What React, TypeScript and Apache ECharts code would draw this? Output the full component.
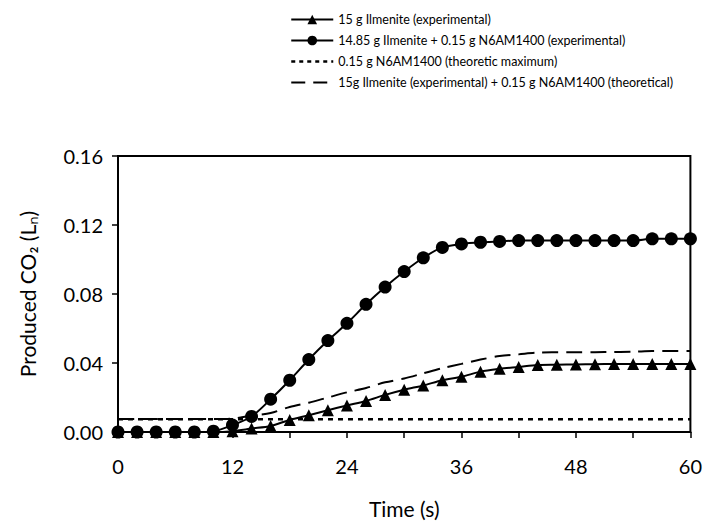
import React, { useEffect, useRef } from "react";
import * as echarts from "echarts";

const times = [0, 2, 4, 6, 8, 10, 12, 14, 16, 18, 20, 22, 24, 26, 28, 30, 32, 34, 36, 38, 40, 42, 44, 46, 48, 50, 52, 54, 56, 58, 60];
const ilmeniteExp = [0, 0, 0, 0, 0, 0, 0.0005, 0.002, 0.0035, 0.007, 0.0097, 0.0126, 0.0154, 0.018, 0.0215, 0.0245, 0.027, 0.03, 0.032, 0.035, 0.0366, 0.0377, 0.0388, 0.039, 0.0392, 0.0393, 0.0394, 0.0394, 0.0394, 0.0394, 0.0394];
const mixExp = [0, 0, 0, 0, 0, 0.0005, 0.004, 0.009, 0.019, 0.03, 0.042, 0.053, 0.063, 0.074, 0.084, 0.093, 0.101, 0.107, 0.109, 0.110, 0.1105, 0.111, 0.111, 0.111, 0.111, 0.111, 0.111, 0.111, 0.112, 0.112, 0.112];
const n6Max = [0.0074, 0.0074, 0.0074, 0.0074, 0.0074, 0.0074, 0.0074, 0.0074, 0.0074, 0.0074, 0.0074, 0.0074, 0.0074, 0.0074, 0.0074, 0.0074, 0.0074, 0.0074, 0.0074, 0.0074, 0.0074, 0.0074, 0.0074, 0.0074, 0.0074, 0.0074, 0.0074, 0.0074, 0.0074, 0.0074, 0.0074];
const theoSum = [0.0075, 0.0075, 0.0075, 0.0075, 0.0075, 0.0075, 0.0078, 0.0095, 0.011, 0.0145, 0.017, 0.02, 0.023, 0.0255, 0.0288, 0.031, 0.034, 0.037, 0.0395, 0.042, 0.044, 0.045, 0.046, 0.0462, 0.0463, 0.0463, 0.0464, 0.0465, 0.047, 0.047, 0.047];

const seriesNames = [
  "15 g Ilmenite (experimental)",
  "14.85 g Ilmenite + 0.15 g N6AM1400 (experimental)",
  "0.15 g N6AM1400 (theoretic maximum)",
  "15g Ilmenite (experimental) + 0.15 g N6AM1400 (theoretical)",
];
const yTicks = ["0.00", "0.04", "0.08", "0.12", "0.16"];

const FONT = "Lato, 'Open Sans', sans-serif";

const pair = (arr: number[]) => times.map((t, i) => [t, arr[i]]);

export default function App() {
  const ref = useRef<HTMLDivElement>(null);
  useEffect(() => {
    if (!ref.current) return;
    const chart = echarts.init(ref.current, undefined, { renderer: "svg" });
    chart.setOption({
      animation: false,
      backgroundColor: "#ffffff",
      textStyle: { fontFamily: FONT, color: "#000" },
      legend: {
        orient: "vertical",
        left: 277,
        top: 0,
        itemWidth: 42,
        itemHeight: 12,
        itemGap: 8,
        textStyle: { fontFamily: FONT, fontSize: 12.5, color: "#000" },
        data: [
          { name: seriesNames[0] },
          { name: seriesNames[1] },
          { name: seriesNames[2], itemStyle: { opacity: 0 }, lineStyle: { type: [4, 4], width: 2.5 } },
          { name: seriesNames[3], itemStyle: { opacity: 0 }, lineStyle: { type: [14, 8], width: 2 } },
        ],
      },
      grid: {
        left: 110,
        right: 8,
        top: 148,
        bottom: 88,
        show: true,
        borderColor: "#000",
        borderWidth: 2,
        backgroundColor: "transparent",
      },
      xAxis: {
        type: "value",
        min: 0,
        max: 60,
        interval: 6,
        name: "Time (s)",
        nameLocation: "middle",
        nameGap: 66,
        nameTextStyle: { fontFamily: FONT, fontSize: 21, color: "#000" },
        axisLine: { show: true, lineStyle: { color: "#000", width: 2 } },
        axisTick: { show: true, inside: false, length: 6, lineStyle: { color: "#000", width: 1.5 } },
        axisLabel: {
          margin: 24,
          fontFamily: FONT,
          fontSize: 20,
          color: "#000",
          formatter: (v: number) => (v % 12 === 0 ? String(v) : ""),
        },
        splitLine: { show: false },
      },
      yAxis: {
        type: "value",
        min: 0,
        max: 0.16,
        interval: 0.04,
        name: "Produced CO\u2082 (L\u2099)",
        nameLocation: "middle",
        nameGap: 80,
        nameRotate: 90,
        nameTextStyle: { fontFamily: FONT, fontSize: 21, color: "#000" },
        axisLine: { show: true, lineStyle: { color: "#000", width: 2 } },
        axisTick: { show: true, inside: false, length: 6, lineStyle: { color: "#000", width: 1.5 } },
        axisLabel: {
          margin: 15,
          fontFamily: FONT,
          fontSize: 20,
          color: "#000",
          formatter: (v: number) => yTicks[Math.round(v / 0.04)] ?? "",
        },
        splitLine: { show: false },
      },
      series: [
        {
          name: seriesNames[2],
          type: "line",
          data: pair(n6Max),
          showSymbol: false,
          symbol: "none",
          lineStyle: { color: "#000", width: 2.5, type: [5, 5] },
          itemStyle: { color: "#000" },
          z: 1,
        },
        {
          name: seriesNames[3],
          type: "line",
          data: pair(theoSum),
          smooth: 0.3,
          showSymbol: false,
          symbol: "none",
          lineStyle: { color: "#000", width: 2, type: [16, 8] },
          itemStyle: { color: "#000" },
          z: 2,
        },
        {
          name: seriesNames[0],
          type: "line",
          data: pair(ilmeniteExp),
          smooth: 0.3,
          symbol: "triangle",
          symbolSize: 12,
          lineStyle: { color: "#000", width: 2 },
          itemStyle: { color: "#000" },
          z: 3,
        },
        {
          name: seriesNames[1],
          type: "line",
          data: pair(mixExp),
          smooth: 0.3,
          symbol: "circle",
          symbolSize: 13,
          lineStyle: { color: "#000", width: 2 },
          itemStyle: { color: "#000" },
          z: 4,
        },
      ],
    });
    return () => chart.dispose();
  }, []);
  return <div ref={ref} style={{ width: 697, height: 516 }} />;
}
